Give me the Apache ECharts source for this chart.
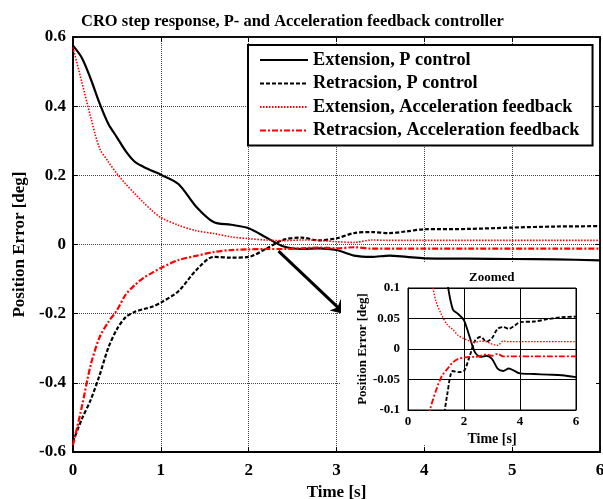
<!DOCTYPE html>
<html>
<head>
<meta charset="utf-8">
<script src="https://cdn.jsdelivr.net/npm/echarts@6/dist/echarts.min.js"></script>
<style>
  html, body { margin: 0; padding: 0; background: #fff; }
  #chart { width: 603px; height: 499px; }
</style>
</head>
<body>
<div id="chart"></div>
<script>
// time axis [s]
var timeData = [0, 0.1, 0.2, 0.3, 0.4, 0.5, 0.6, 0.7, 0.8, 0.9, 1.0, 1.2, 1.4, 1.6, 1.8, 2.0,
  2.2, 2.4, 2.6, 2.8, 3.0, 3.2, 3.4, 3.6, 3.8, 4.0, 4.5, 5.0, 5.5, 6.0]
// position error [deg]
var extP = [0.575, 0.54, 0.48, 0.41, 0.35, 0.31, 0.27, 0.24, 0.225, 0.213, 0.202, 0.175, 0.11, 0.065, 0.057, 0.047,
  0.02, -0.006, -0.013, -0.011, -0.016, -0.032, -0.036, -0.032, -0.036, -0.040, -0.041, -0.042, -0.043, -0.046]
var retP = [-0.57, -0.505, -0.45, -0.38, -0.30, -0.245, -0.21, -0.195, -0.187, -0.18, -0.168, -0.135, -0.075, -0.036, -0.038, -0.036,
  -0.012, 0.014, 0.02, 0.012, 0.018, 0.033, 0.036, 0.033, 0.038, 0.044, 0.045, 0.049, 0.052, 0.053]
var extAF = [0.57, 0.47, 0.37, 0.28, 0.24, 0.205, 0.175, 0.148, 0.122, 0.098, 0.078, 0.056, 0.04, 0.032, 0.022, 0.017,
  0.013, 0.011, 0.013, 0.012, 0.008, 0.006, 0.013, 0.012, 0.012, 0.012, 0.012, 0.012, 0.012, 0.012]
var retAF = [-0.58, -0.47, -0.35, -0.27, -0.225, -0.19, -0.145, -0.118, -0.097, -0.082, -0.068, -0.045, -0.033, -0.022, -0.016, -0.014,
  -0.013, -0.013, -0.011, -0.009, -0.011, -0.008, -0.012, -0.012, -0.012, -0.012, -0.012, -0.012, -0.012, -0.012]
var names = ['Extension, P control', 'Retracsion, P control', 'Extension, Acceleration feedback', 'Retracsion, Acceleration feedback']
// arrow from the crossing to the zoomed view
var arrowFrom = [2.34, -0.019]
var arrowTo = [3.10, -0.202]

var font = 'Liberation Serif'
var chart = echarts.init(document.getElementById('chart'))

function pairs(ys){
  return timeData.map(function(t, i){ return [t, ys[i]] })
}

var styles = [
  {color: '#000', width: 2.2, type: 'solid'},
  {color: '#000', width: 2.2, type: [4, 2]},
  {color: '#ff0000', width: 1.6, type: [1.5, 1.5]},
  {color: '#ff0000', width: 2.2, type: [6, 2, 2, 2]}
]
var allData = [extP, retP, extAF, retAF]

var series = []
for(let k = 0; k < 2; k++){
  for(let i = 0; i < 4; i++){
    let obj = {
      name: names[i],
      type: 'line',
      xAxisIndex: k === 0 ? 0 : 2,
      yAxisIndex: k === 0 ? 0 : 2,
      data: pairs(allData[i]),
      smooth: 0.3,
      showSymbol: false,
      symbol: 'none',
      z: k === 0 ? 2 : 12,
      itemStyle: {color: styles[i].color},
      lineStyle: {color: styles[i].color, width: k === 0 ? styles[i].width : styles[i].width * 0.85, type: styles[i].type}
    }
    if(k === 0 && i === 0){
      obj.markLine = {
        silent: true,
        symbol: ['none', 'arrow'],
        symbolSize: [12, 14],
        label: {show: false},
        lineStyle: {color: '#000', width: 3, type: 'solid'},
        data: [[{coord: arrowFrom}, {coord: arrowTo}]]
      }
    }
    series.push(obj)
  }
}

var labelStyle = {fontFamily: font, fontWeight: 'bold', color: '#000'}

var option = {
  animation: false,
  title: [
    {
      text: 'CRO step response, P- and Acceleration feedback controller',
      left: 76, top: 8,
      textStyle: {fontFamily: font, fontWeight: 'bold', fontSize: 16.5, color: '#000'}
    },
    {
      text: 'Zoomed',
      left: 464, top: 266, z: 12,
      textStyle: {fontFamily: font, fontWeight: 'bold', fontSize: 13, color: '#000'}
    }
  ],
  legend: {
    data: names,
    orient: 'vertical',
    left: 248, top: 45,
    padding: [6, 13, 6, 11],
    itemGap: 5.5,
    itemWidth: 48,
    itemHeight: 14,
    backgroundColor: '#fff',
    borderColor: '#000',
    borderWidth: 2,
    borderRadius: 0,
    itemStyle: {color: 'transparent', borderWidth: 0, opacity: 0},
    textStyle: {fontFamily: font, fontWeight: 'bold', fontSize: 18.3, color: '#000'}
  },
  graphic: [
    {type: 'rect', z: 6, shape: {x: 341, y: 263, width: 255, height: 182}, style: {fill: '#fff'}}
  ],
  grid: [
    {left: 73, top: 37, width: 527, height: 415, outerBoundsMode: 'none', show: true, borderColor: '#000', borderWidth: 1.5},
    {left: 408, top: 288, width: 168, height: 122, outerBoundsMode: 'none', show: true, borderColor: '#000', borderWidth: 1, z: 10}
  ],
  xAxis: [
    {
      gridIndex: 0, type: 'value', min: 0, max: 6, interval: 1,
      name: 'Time [s]', nameLocation: 'middle', nameGap: 30,
      nameTextStyle: {fontFamily: font, fontWeight: 'bold', fontSize: 17, color: '#000'},
      axisLine: {onZero: false, lineStyle: {color: '#000', width: 2}},
      axisTick: {inside: true, length: 5, lineStyle: {color: '#000'}},
      axisLabel: Object.assign({fontSize: 17, margin: 10}, labelStyle),
      splitLine: {show: true, lineStyle: {color: '#444', width: 1, type: [1, 1]}}
    },
    {
      gridIndex: 0, type: 'value', min: 0, max: 6, interval: 1, position: 'top',
      axisLine: {onZero: false, lineStyle: {color: '#000', width: 1.5}},
      axisTick: {inside: true, length: 5, lineStyle: {color: '#000'}},
      axisLabel: {show: false}, splitLine: {show: false}
    },
    {
      gridIndex: 1, type: 'value', min: 0, max: 6, interval: 2, z: 10,
      name: 'Time [s]', nameLocation: 'middle', nameGap: 22,
      nameTextStyle: {fontFamily: font, fontWeight: 'bold', fontSize: 14, color: '#000'},
      axisLine: {onZero: false, lineStyle: {color: '#000', width: 1}},
      axisTick: {show: false},
      axisLabel: Object.assign({fontSize: 13, margin: 5}, labelStyle),
      splitLine: {show: true, lineStyle: {color: '#000', width: 1}}
    }
  ],
  yAxis: [
    {
      gridIndex: 0, type: 'value', min: -0.6, max: 0.6, interval: 0.2,
      name: 'Position Error [deg]', nameLocation: 'middle', nameGap: 44,
      nameTextStyle: {fontFamily: font, fontWeight: 'bold', fontSize: 17, color: '#000'},
      axisLine: {onZero: false, lineStyle: {color: '#000', width: 2}},
      axisTick: {inside: true, length: 5, lineStyle: {color: '#000'}},
      axisLabel: Object.assign({fontSize: 17, margin: 7, formatter: function(v){ return Math.abs(v) < 1e-9 ? '0' : v.toFixed(1) }}, labelStyle),
      splitLine: {show: true, lineStyle: {color: '#444', width: 1, type: [1, 1]}}
    },
    {
      gridIndex: 0, type: 'value', min: -0.6, max: 0.6, interval: 0.2, position: 'right',
      axisLine: {onZero: false, lineStyle: {color: '#000', width: 1.5}},
      axisTick: {inside: true, length: 5, lineStyle: {color: '#000'}},
      axisLabel: {show: false}, splitLine: {show: false}
    },
    {
      gridIndex: 1, type: 'value', min: -0.1, max: 0.1, interval: 0.05, z: 10,
      name: 'Position Error [deg]', nameLocation: 'middle', nameGap: 38,
      nameTextStyle: {fontFamily: font, fontWeight: 'bold', fontSize: 13, color: '#000'},
      axisLine: {onZero: false, lineStyle: {color: '#000', width: 1}},
      axisTick: {show: false},
      axisLabel: Object.assign({fontSize: 13, margin: 8, formatter: function(v){ return String(+v.toFixed(2)) }}, labelStyle),
      splitLine: {show: true, lineStyle: {color: '#000', width: 1}}
    }
  ],
  series: series
}
chart.setOption(option)
</script>
</body>
</html>
